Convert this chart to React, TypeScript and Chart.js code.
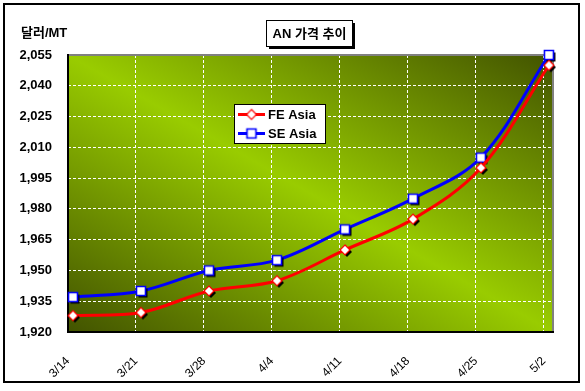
import React, { useEffect, useRef } from 'react';
import { Chart, registerables } from 'chart.js';

Chart.register(...registerables);

// ---- data ----
const CATEGORIES = ['3/14', '3/21', '3/28', '4/4', '4/11', '4/18', '4/25', '5/2'];
const FE_ASIA = [1928, 1929.5, 1940, 1945, 1960, 1975, 2000, 2050];
const SE_ASIA = [1937, 1940, 1950, 1955, 1970, 1985, 2005, 2055];
const SERIES_NAMES = ['FE Asia', 'SE Asia'];
const Y_MIN = 1920;
const Y_MAX = 2055;
const Y_STEP = 15;
const TITLE = 'AN 가격 추이';
const Y_TITLE = '달러/MT';

// ---- styles ----
const FONT = "'Liberation Sans', Arial, 'Noto Sans CJK KR', sans-serif";
const RED = '#ff0000';
const BLUE = '#0000ff';
const DARK = '#425300';
const BRIGHT = '#99cc00';
const GRID_SHIFT = -0.0735;
const X_MAX = 7.06;

function makeMarker(shape: 'diamond' | 'square', color: string, shadow: boolean) {
  const c = document.createElement('canvas');
  c.width = 22;
  c.height = 22;
  const g = c.getContext('2d') as CanvasRenderingContext2D;
  const path = (cx: number, cy: number) => {
    g.beginPath();
    if (shape === 'diamond') {
      const r = 5;
      g.moveTo(cx, cy - r);
      g.lineTo(cx + r, cy);
      g.lineTo(cx, cy + r);
      g.lineTo(cx - r, cy);
      g.closePath();
    } else {
      g.rect(cx - 4.5, cy - 4.5, 9, 9);
    }
  };
  if (shadow) {
    path(13, 13);
    g.fillStyle = '#000';
    g.fill();
  }
  path(11, 11);
  g.fillStyle = '#fff';
  g.fill();
  g.lineWidth = shape === 'diamond' ? 1.2 : 1.6;
  g.strokeStyle = color;
  g.stroke();
  return c;
}

let legendMarkers: HTMLCanvasElement[] = [];

const bgPlugin = {
  id: 'bgPlugin',
  beforeDraw(chart: any) {
    const { ctx, width, height, chartArea: a } = chart;
    ctx.save();
    ctx.fillStyle = '#fff';
    ctx.fillRect(0, 0, width, height);
    ctx.strokeStyle = '#000';
    ctx.lineWidth = 2;
    ctx.strokeRect(4, 4, 575, 378);
    const w = a.right - a.left;
    const h = a.bottom - a.top;
    const cx = (a.left + a.right) / 2;
    const cy = (a.top + a.bottom) / 2;
    const len = Math.hypot(w, h);
    const ux = h / len;
    const uy = -w / len;
    const k = (w * h) / len;
    const grad = ctx.createLinearGradient(cx - k * ux, cy - k * uy, cx + k * ux, cy + k * uy);
    grad.addColorStop(0, DARK);
    grad.addColorStop(0.5, BRIGHT);
    grad.addColorStop(1, DARK);
    ctx.fillStyle = grad;
    ctx.fillRect(a.left, a.top, w, h);
    ctx.restore();
  },
  beforeDatasetsDraw(chart: any) {
    const { ctx, chartArea: a } = chart;
    ctx.save();
    ctx.lineWidth = 2;
    ctx.strokeStyle = '#808080';
    ctx.beginPath();
    ctx.moveTo(a.left, a.top);
    ctx.lineTo(a.right, a.top);
    ctx.lineTo(a.right, a.bottom);
    ctx.stroke();
    ctx.strokeStyle = '#000';
    ctx.beginPath();
    ctx.moveTo(a.left, a.top - 1);
    ctx.lineTo(a.left, a.bottom);
    ctx.lineTo(a.right + 1, a.bottom);
    ctx.stroke();
    ctx.restore();
  },
  afterDraw(chart: any) {
    const { ctx } = chart;
    ctx.save();
    // title box
    ctx.fillStyle = '#000';
    ctx.fillRect(269, 23, 86, 26);
    ctx.fillStyle = '#fff';
    ctx.fillRect(266, 20, 86, 26);
    ctx.strokeStyle = '#000';
    ctx.lineWidth = 1;
    ctx.strokeRect(266.5, 20.5, 86, 26);
    ctx.fillStyle = '#000';
    ctx.font = `bold 13px ${FONT}`;
    ctx.textAlign = 'center';
    ctx.textBaseline = 'middle';
    ctx.fillText(TITLE, 309.5, 34);
    // y title
    ctx.textAlign = 'left';
    ctx.fillText(Y_TITLE, 21, 33);
    // legend
    ctx.fillStyle = '#fff';
    ctx.fillRect(234, 104, 91, 39);
    ctx.strokeRect(234.5, 104.5, 91, 39);
    const rows = [
      { name: chart.data.datasets[0].label, color: RED, marker: legendMarkers[0], y: 114.5 },
      { name: chart.data.datasets[1].label, color: BLUE, marker: legendMarkers[1], y: 133.5 },
    ];
    rows.forEach((r) => {
      ctx.strokeStyle = r.color;
      ctx.lineWidth = 3;
      ctx.beginPath();
      ctx.moveTo(238, r.y);
      ctx.lineTo(265, r.y);
      ctx.stroke();
      ctx.drawImage(r.marker, 251.5 - 11, r.y - 11);
      ctx.fillStyle = '#000';
      ctx.font = `bold 13px ${FONT}`;
      ctx.textAlign = 'left';
      ctx.textBaseline = 'middle';
      ctx.fillText(r.name, 268, r.y + 0.5);
    });
    ctx.restore();
  },
};

export default function App() {
  const ref = useRef<HTMLCanvasElement | null>(null);
  useEffect(() => {
    document.body.style.margin = '0';
    const feMarker = makeMarker('diamond', RED, true);
    const seMarker = makeMarker('square', BLUE, true);
    legendMarkers = [makeMarker('diamond', RED, false), makeMarker('square', BLUE, false)];
    const canvas = ref.current as HTMLCanvasElement;
    const chart = new Chart(canvas, {
      type: 'line',
      data: {
        datasets: [
          {
            label: SERIES_NAMES[0],
            data: FE_ASIA.map((v, i) => ({ x: i, y: v })),
            borderColor: RED,
            backgroundColor: RED,
            borderWidth: 3,
            pointStyle: feMarker as any,
            pointRadius: 5,
            tension: 0.35,
            clip: false as any,
          },
          {
            label: SERIES_NAMES[1],
            data: SE_ASIA.map((v, i) => ({ x: i, y: v })),
            borderColor: BLUE,
            backgroundColor: BLUE,
            borderWidth: 3,
            pointStyle: seMarker as any,
            pointRadius: 5,
            tension: 0.35,
            clip: false as any,
          },
        ],
      },
      options: {
        animation: false,
        responsive: false,
        devicePixelRatio: 1,
        layout: { padding: { left: 0, top: 55, right: 32, bottom: 0 } },
        plugins: { legend: { display: false }, tooltip: { enabled: false }, title: { display: false } },
        scales: {
          x: {
            type: 'linear',
            min: GRID_SHIFT,
            max: X_MAX,
            bounds: 'data',
            afterBuildTicks: (s: any) => {
              s.ticks = CATEGORIES.map((_, i) => ({ value: i + GRID_SHIFT }));
            },
            afterFit: (s: any) => {
              s.height = 59;
            },
            grid: {
              color: (c: any) => (c.index === 0 ? 'rgba(0,0,0,0)' : '#ffffff'),
              lineWidth: 1,
              drawTicks: false,
            },
            border: { display: false, dash: [3, 2] },
            ticks: {
              callback: (_v: any, i: number) => CATEGORIES[i],
              maxRotation: 45,
              minRotation: 45,
              autoSkip: false,
              color: '#000',
              font: { family: FONT, size: 12 },
              padding: 22,
            },
          },
          y: {
            min: Y_MIN,
            max: Y_MAX,
            afterFit: (s: any) => {
              s.width = 68;
            },
            grid: {
              color: (c: any) => (c.tick && (c.tick.value === Y_MIN || c.tick.value === Y_MAX) ? 'rgba(0,0,0,0)' : '#ffffff'),
              lineWidth: 1,
              drawTicks: false,
            },
            border: { display: false, dash: [3, 2] },
            ticks: {
              stepSize: Y_STEP,
              callback: (v: any) => Number(v).toLocaleString('en-US'),
              color: '#000',
              font: { family: FONT, size: 13, weight: 'bold' },
              padding: 16,
            },
          },
        },
      } as any,
      plugins: [bgPlugin],
    });
    return () => chart.destroy();
  }, []);
  return (
    <div style={{ width: 585, height: 391 }}>
      <canvas ref={ref} width={585} height={391} style={{ display: 'block' }} />
    </div>
  );
}
